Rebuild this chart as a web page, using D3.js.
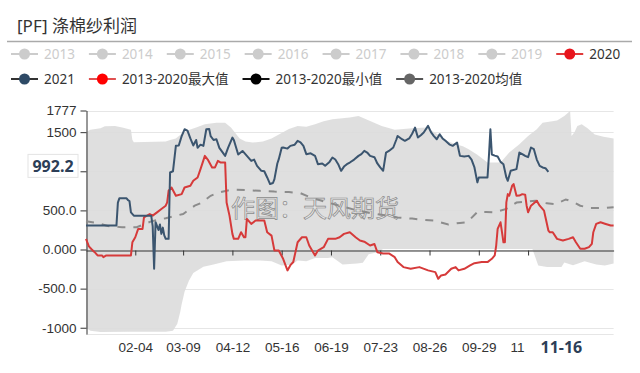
<!DOCTYPE html>
<html>
<head>
<meta charset="utf-8">
<script src="https://cdn.jsdelivr.net/npm/d3@7"></script>
<style>
body { margin: 0; background: #fff; }
svg { display: block; font-family: "Noto Sans", "Noto Sans CJK SC", sans-serif; }
</style>
</head>
<body>
<div id="chart"></div>
<script>
var width = 640;
var height = 373;

// one category per calendar day, labelled MM-DD
var days = d3.timeDay.range(new Date(2021, 0, 1), new Date(2022, 0, 1)).map(d3.timeFormat("%m-%d"));

var tickDays = ["02-04", "03-09", "04-12", "05-16", "06-19", "07-23", "08-26", "09-29", "11-02"];
// last one is mostly hidden behind the pointer label, only "11" shows
var tickText = ["02-04", "03-09", "04-12", "05-16", "06-19", "07-23", "08-26", "09-29", "11"];
var yTicks = [1777, 1500, 1000, 500, 0, -500, -1000];
// 1000 sits behind the pointer label
var yTickText = ["1777", "1500", "", "500.0", "0.000", "-500.0", "-1000"];

var legendRow1 = ["2013", "2014", "2015", "2016", "2017", "2018", "2019", "2020"];
var legendRow2 = ["2021", "2013-2020最大值", "2013-2020最小值", "2013-2020均值"];

// [day of year, value]
var s2021 = [[0,306],[21,306],[22,600],[23,654],[28,654],[29,630],[30,620],[31,475],[33,433],[45,433],[46,300],[47,-246],[48,350],[50,250],[51,320],[52,200],[53,280],[54,180],[55,136],[57,136],[58,985],[60,1000],[62,1325],[64,1330],[66,1450],[68,1537],[70,1520],[72,1420],[74,1330],[76,1400],[77,1300],[79,1340],[81,1325],[83,1537],[85,1540],[86,1450],[88,1400],[90,1410],[92,1300],[96,1197],[98,1300],[101,1431],[102,1400],[105,1214],[108,1260],[111,1197],[114,1133],[116,1150],[118,1070],[121,1006],[123,1000],[125,921],[127,837],[129,850],[130,900],[132,1100],[133,1155],[135,1300],[136,1304],[139,1290],[141,1325],[144,1340],[146,1389],[148,1370],[150,1325],[152,1219],[155,1230],[158,1198],[160,1091],[163,1100],[165,1070],[168,1120],[170,1176],[172,1150],[174,1091],[176,1006],[178,1060],[180,1091],[182,1112],[185,1150],[188,1197],[190,1220],[192,1261],[194,1240],[196,1197],[199,1180],[201,1100],[203,1049],[205,1006],[207,1240],[209,1260],[212,1304],[214,1400],[215,1452],[218,1410],[220,1389],[223,1420],[225,1480],[227,1558],[229,1431],[231,1460],[233,1495],[236,1580],[238,1500],[240,1450],[242,1410],[244,1474],[246,1420],[248,1389],[251,1340],[253,1325],[256,1368],[258,1197],[261,1190],[264,1197],[266,1150],[268,1049],[270,858],[271,921],[277,921],[278,1200],[279,1537],[280,1214],[282,1200],[284,1190],[286,1120],[288,1091],[290,921],[291,879],[293,1006],[297,1028],[299,1240],[301,1220],[303,1197],[305,1180],[307,1304],[309,1283],[311,1150],[313,1070],[315,1049],[317,1040],[319,992.2]];

var s2020 = [[0,136],[2,40],[4,0],[6,-34],[8,-76],[11,-76],[12,-98],[14,-76],[31,-76],[32,93],[34,157],[36,263],[39,263],[40,412],[44,454],[46,433],[49,475],[52,518],[55,560],[56,602],[57,751],[59,793],[62,687],[66,708],[68,793],[72,815],[74,878],[77,921],[79,1028],[82,1197],[84,1150],[87,1049],[89,1049],[91,1133],[93,1112],[96,1112],[97,600],[99,433],[101,200],[102,136],[105,136],[107,221],[109,157],[110,157],[111,391],[114,327],[117,370],[123,370],[125,221],[128,178],[130,-13],[133,-13],[136,-119],[139,-267],[141,-200],[143,-160],[146,93],[149,157],[152,157],[154,51],[158,-76],[160,-13],[164,30],[167,136],[172,136],[175,157],[178,200],[182,221],[186,157],[189,115],[192,100],[196,51],[199,70],[201,-34],[205,-50],[209,-50],[213,-98],[215,-161],[219,-225],[224,-246],[230,-225],[236,-267],[241,-289],[243,-374],[245,-331],[248,-320],[252,-246],[255,-225],[257,-267],[261,-246],[265,-204],[268,-175],[273,-161],[277,-161],[280,-119],[282,-76],[283,51],[284,263],[286,348],[287,221],[288,93],[289,93],[290,602],[291,708],[292,687],[294,815],[295,836],[297,687],[299,690],[301,708],[303,700],[304,560],[305,475],[307,560],[311,624],[313,560],[316,497],[317,412],[319,242],[320,221],[322,221],[325,136],[329,115],[333,136],[336,157],[338,93],[341,9],[344,9],[347,30],[349,72],[350,221],[352,327],[355,348],[358,330],[362,306],[364,306]];

var sMean = [[0,360],[8,340],[15,300],[25,284],[35,284],[45,360],[55,400],[67,454],[75,560],[80,600],[86,687],[92,730],[100,765],[110,760],[120,750],[130,740],[140,735],[148,720],[155,666],[165,610],[175,560],[185,510],[195,470],[205,440],[215,410],[225,395],[232,380],[240,369],[250,320],[258,340],[263,348],[270,480],[276,480],[282,475],[290,520],[297,600],[303,610],[310,624],[318,590],[324,581],[331,640],[336,610],[341,560],[348,530],[357,530],[364,540]];

var sMax = [[0,1500],[3,1530],[10,1550],[13,1575],[20,1580],[25,1560],[29,1540],[31,1530],[32,1400],[33,1370],[55,1380],[58,1400],[62,1420],[66,1480],[70,1520],[76,1560],[82,1600],[90,1620],[96,1620],[100,1560],[106,1420],[110,1380],[115,1367],[122,1380],[128,1420],[134,1480],[140,1540],[146,1580],[152,1570],[158,1600],[164,1640],[170,1665],[182,1687],[188,1707],[196,1643],[204,1580],[213,1530],[225,1550],[235,1560],[242,1480],[246,1431],[250,1380],[255,1346],[260,1320],[264,1283],[270,1210],[277,1112],[286,1112],[292,1240],[299,1346],[305,1450],[311,1537],[315,1622],[325,1650],[330,1707],[334,1770],[335,1450],[337,1500],[339,1580],[342,1600],[346,1550],[351,1470],[357,1440],[364,1420]];

var sMin = [[0,-1000],[3,-1040],[10,-1053],[30,-1050],[55,-1050],[60,-1040],[63,-950],[65,-800],[66,-700],[68,-540],[71,-400],[74,-300],[81,-220],[88,-190],[97,-150],[109,-140],[120,-140],[128,-150],[135,-204],[142,-190],[146,-140],[152,-150],[158,-110],[167,-110],[170,-100],[177,-190],[187,-180],[191,-170],[195,-60],[201,-34],[205,5],[308,5],[310,-100],[312,-204],[318,-225],[328,-225],[330,-165],[336,-200],[344,-150],[352,-190],[358,-204],[364,-180]];

var svg = d3.select("#chart").append("svg")
    .attr("width", width)
    .attr("height", height);

var x = d3.scalePoint().domain(days).range([86, 613.6]);
var y = d3.scaleLinear().domain([-1080, 1777]).range([334, 110.5]);

var line = d3.line()
    .x(function(d) { return x(days[d[0]]); })
    .y(function(d) { return y(d[1]); });

// title
svg.append("text")
    .attr("x", 17)
    .attr("y", 32)
    .attr("font-size", 17)
    .attr("fill", "#333")
    .text("[PF] 涤棉纱利润");

svg.append("line")
    .attr("x1", 7).attr("x2", 632)
    .attr("y1", 41.5).attr("y2", 41.5)
    .attr("stroke", "#aaa")
    .attr("stroke-width", 1.5);

// legend
var legendStyle = {
  "2020": { line: "#e03a3a", dot: "#e8141c", text: "#333" },
  "2021": { line: "#333", dot: "#2e4a66", text: "#333" },
  "2013-2020最大值": { line: "#e05050", dot: "#f00", text: "#333" },
  "2013-2020最小值": { line: "#111", dot: "#000", text: "#333" },
  "2013-2020均值": { line: "#555", dot: "#666", text: "#333" }
};
var off = { line: "#ccc", dot: "#ccc", text: "#ccc" };

function drawLegend(names, cy) {
  var cx = 11;
  names.forEach(function(n) {
    var st = legendStyle[n] || off;
    var g = svg.append("g").attr("transform", "translate(" + cx + "," + cy + ")");
    g.append("line").attr("x1", 0).attr("x2", 27).attr("y1", 0).attr("y2", 0)
        .attr("stroke", st.line).attr("stroke-width", 2);
    g.append("circle").attr("cx", 13.5).attr("cy", 0).attr("r", 5.5).attr("fill", st.dot);
    var t = g.append("text").attr("x", 33).attr("y", 5)
        .attr("font-size", 13.5).attr("fill", st.text).text(n);
    cx += 33 + t.node().getComputedTextLength() + 14;
  });
}
drawLegend(legendRow1, 54);
drawLegend(legendRow2, 79);

// grid
svg.append("g").selectAll("line")
    .data(yTicks.concat([-1080]))
  .join("line")
    .attr("x1", 86).attr("x2", 613.6)
    .attr("y1", function(d) { return Math.round(y(d)) + 0.5; })
    .attr("y2", function(d) { return Math.round(y(d)) + 0.5; })
    .attr("stroke", "#e6e6e6");

// 2013-2020 range band
var bandPath = line(sMax) + "L" + line(sMin.slice().reverse()).slice(1) + "Z";
svg.append("path")
    .attr("d", bandPath)
    .attr("fill", "#dcdcdc")
    .attr("opacity", 0.9);

// watermark
svg.append("text")
    .attr("x", 231)
    .attr("y", 217)
    .attr("font-size", 24)
    .attr("fill", "rgba(255,255,255,0.2)")
    .attr("stroke", "#8a8a8a")
    .attr("stroke-width", 0.7)
    .text("作图：天风期货");

// axes
var yAxis = d3.axisLeft(y)
    .tickValues(yTicks)
    .tickFormat(function(d, i) { return yTickText[i]; })
    .tickSizeInner(6)
    .tickSizeOuter(0)
    .tickPadding(4);
var gy = svg.append("g").attr("transform", "translate(86.5,0)").call(yAxis);
gy.select(".domain").attr("stroke", "#333");
gy.selectAll(".tick line").attr("stroke", "#333");
gy.selectAll(".tick text").attr("font-size", 13.5).attr("fill", "#333").attr("font-family", null);

var xAxis = d3.axisBottom(x)
    .tickValues(tickDays)
    .tickFormat("")
    .tickSizeInner(5)
    .tickSizeOuter(0);
var gx = svg.append("g").attr("transform", "translate(0," + (Math.round(y(0)) + 0.5) + ")").call(xAxis);
gx.select(".domain").attr("stroke", "#333");
gx.selectAll(".tick line").attr("stroke", "#333");

var xLabels = d3.axisBottom(x)
    .tickValues(tickDays)
    .tickFormat(function(d, i) { return tickText[i]; })
    .tickSize(0)
    .tickPadding(0);
var gxl = svg.append("g").attr("transform", "translate(0,342)").call(xLabels);
gxl.select(".domain").remove();
gxl.selectAll(".tick text").attr("font-size", 13.5).attr("fill", "#333").attr("font-family", null);
// the cut label keeps the left edge of the full "11-02"
gxl.selectAll(".tick text").filter(function(d) { return d === "11-02"; })
    .attr("text-anchor", "start")
    .attr("x", -18);

// series
svg.append("path")
    .attr("d", line(sMean))
    .attr("fill", "none")
    .attr("stroke", "#8c8c8c")
    .attr("stroke-width", 2)
    .attr("stroke-dasharray", "8,8");

svg.append("path")
    .attr("d", line(s2020))
    .attr("fill", "none")
    .attr("stroke", "#d63a3a")
    .attr("stroke-width", 2)
    .attr("stroke-linejoin", "round");

svg.append("path")
    .attr("d", line(s2021))
    .attr("fill", "none")
    .attr("stroke", "#3b556f")
    .attr("stroke-width", 2)
    .attr("stroke-linejoin", "round");

// pointer labels for the last 2021 point
var last = s2021[s2021.length - 1];
var py = y(last[1]) - 6;
svg.append("rect")
    .attr("x", 28).attr("y", py - 11.5)
    .attr("width", 50).attr("height", 23)
    .attr("fill", "#fff")
    .attr("stroke", "#e4e4e4");
svg.append("text")
    .attr("x", 53).attr("y", py + 6)
    .attr("text-anchor", "middle")
    .attr("font-size", 16)
    .attr("font-weight", "bold")
    .attr("fill", "#2c3e57")
    .text(last[1]);

var px = x(days[last[0]]) + 13;
svg.append("rect")
    .attr("x", px - 25).attr("y", 337)
    .attr("width", 50).attr("height", 21)
    .attr("fill", "#fff");
svg.append("text")
    .attr("x", px).attr("y", 353)
    .attr("text-anchor", "middle")
    .attr("font-size", 16)
    .attr("font-weight", "bold")
    .attr("fill", "#2c3e57")
    .text(days[last[0]]);
</script>
</body>
</html>
